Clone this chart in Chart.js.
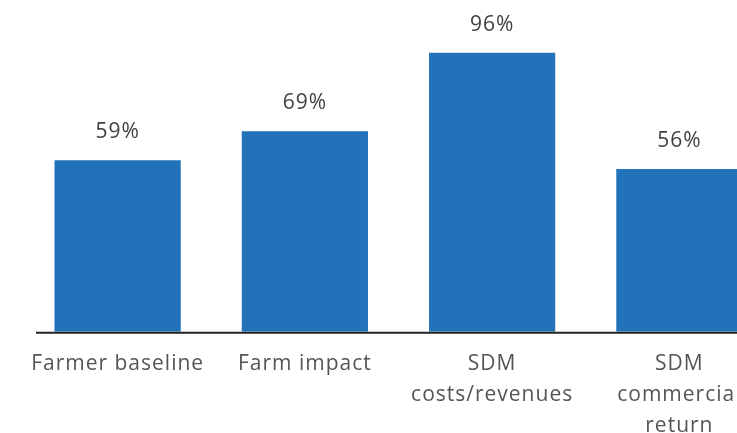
<!DOCTYPE html>
<html>
<head>
<meta charset="utf-8">
<script src="https://cdn.jsdelivr.net/npm/chart.js@4/dist/chart.umd.min.js"></script>
<style>
  html, body { margin: 0; padding: 0; background: #fff; overflow: hidden; }
  #wrap { width: 737px; height: 433px; overflow: hidden; position: relative; }
  #box { width: 773px; height: 459px; position: absolute; left: 0; top: 0; }
</style>
</head>
<body>
<div id="wrap"><div id="box"><canvas id="myChart"></canvas></div></div>
<script>
'use strict';

// chart data
var categories = [['Farmer baseline'], ['Farm impact'], ['SDM', 'costs/revenues'], ['SDM', 'commercial', 'return']];
var shares = [59, 69, 96, 56];

var labelFont = '"Open Sans", sans-serif';

// the original lettering is wide, add a little tracking (canvas resize resets it, so set it every draw)
var tracking = {
  id: 'tracking',
  beforeDraw: function (chart) {
    chart.ctx.letterSpacing = '1px';
  }
};

// draws the % value above every bar
var valueLabels = {
  id: 'valueLabels',
  afterDatasetsDraw: function (chart) {
    var ctx = chart.ctx;
    var meta = chart.getDatasetMeta(0);
    ctx.save();
    ctx.fillStyle = '#404040';
    ctx.font = '21px ' + labelFont;
    ctx.textAlign = 'center';
    ctx.textBaseline = 'middle';
    meta.data.forEach(function (bar, i) {
      ctx.fillText(shares[i] + '%', bar.x, bar.y - 28);
    });
    ctx.restore();
  }
};

// baseline under the bars, starts a bit inside the first category
var baseLine = {
  id: 'baseLine',
  afterDatasetsDraw: function (chart) {
    var ctx = chart.ctx;
    var y = chart.scales.y.getPixelForValue(0);
    ctx.save();
    ctx.strokeStyle = '#222222';
    ctx.lineWidth = 2;
    ctx.beginPath();
    ctx.moveTo(chart.chartArea.left + 12, y + 1);
    ctx.lineTo(chart.chartArea.right, y + 1);
    ctx.stroke();
    ctx.restore();
  }
};

var canvas = document.getElementById('myChart');

var myChart = new Chart(canvas, {
  type: 'bar',
  data: {
    labels: categories,
    datasets: [{
      data: shares,
      backgroundColor: '#2172b9',
      borderWidth: 0,
      categoryPercentage: 1,
      barPercentage: 0.674
    }]
  },
  options: {
    responsive: true,
    maintainAspectRatio: false,
    animation: false,
    layout: { padding: { left: 24, right: 0, top: 41, bottom: 0 } },
    plugins: {
      legend: { display: false },
      tooltip: { enabled: false }
    },
    scales: {
      x: {
        grid: { display: false, drawTicks: false },
        border: { display: false },
        ticks: {
          color: '#555555',
          font: { family: labelFont, size: 21, lineHeight: 1.48 },
          padding: 17,
          maxRotation: 0,
          autoSkip: false
        }
      },
      y: {
        display: false,
        min: 0,
        max: 100
      }
    }
  },
  plugins: [tracking, valueLabels, baseLine]
});
</script>
</body>
</html>
